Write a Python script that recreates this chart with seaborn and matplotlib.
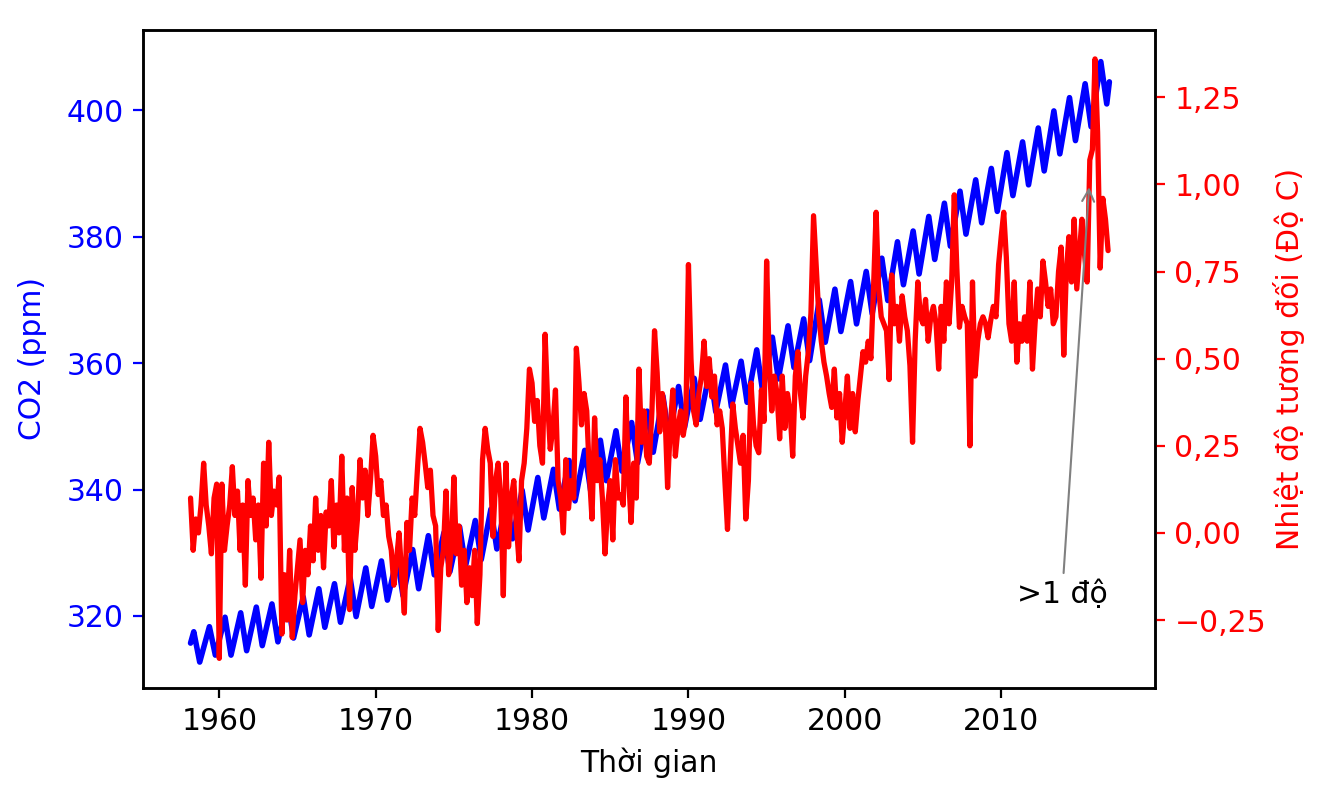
import pandas as pd
import matplotlib
matplotlib.use("Agg")
import matplotlib.pyplot as plt
import matplotlib.dates as mdates
from matplotlib.ticker import FuncFormatter
import seaborn as sns

# CO2 (ppm) at Mauna Loa: first month, yearly May peaks, Sep/Oct troughs, last month
co2_years = list(range(1958, 2017))
co2_first = 315.7   # 1958-03
co2_last = 404.5    # 2016-12
co2_peak = [317.5, 318.3, 319.8, 320.5, 321.4, 321.9, 322.5, 323.0, 324.3, 325.1,
            326.0, 327.6, 328.7, 329.3, 330.5, 332.7, 333.2, 334.1, 335.1, 336.9,
            338.5, 339.9, 341.9, 343.2, 344.6, 346.2, 347.8, 349.3, 350.6, 352.4,
            354.8, 356.3, 357.6, 358.8, 359.7, 360.3, 362.1, 364.1, 365.9, 367.0,
            370.0, 371.7, 372.9, 374.5, 376.6, 379.2, 380.9, 383.2, 385.3, 387.2,
            389.0, 390.8, 393.3, 395.0, 397.2, 399.9, 402.0, 404.2, 407.7]
co2_trough = [312.7, 313.8, 313.8, 314.5, 315.3, 315.9, 316.5, 317.0, 318.2, 319.0,
              319.9, 321.5, 322.5, 323.2, 324.3, 326.5, 327.0, 327.9, 328.9, 330.6,
              332.2, 333.6, 335.5, 336.9, 338.2, 339.8, 341.4, 342.9, 344.2, 345.9,
              348.3, 349.8, 351.1, 352.3, 353.1, 353.8, 355.5, 357.5, 359.3, 360.4,
              363.3, 365.0, 366.2, 367.8, 369.9, 372.4, 374.1, 376.4, 378.5, 380.4,
              382.2, 384.0, 386.5, 388.2, 390.4, 393.1, 395.2, 397.4, 401.0]

# relative temperature (deg C), every two months from 1958-03 to 2016-11
temp_values = [
    0.10, -0.05, 0.04, 0.00, 0.08,              # 1958
    0.20, 0.08, 0.02, -0.06, 0.10, 0.14,        # 1959
    -0.36, 0.14, -0.05, 0.02, 0.08, 0.19,       # 1960
    0.05, 0.12, -0.05, 0.08, -0.15, 0.15,       # 1961
    0.05, 0.10, -0.02, 0.08, -0.13, 0.20,       # 1962
    0.02, 0.26, 0.05, 0.12, 0.08, 0.16,         # 1963
    -0.29, -0.12, -0.25, -0.05, -0.30, -0.18,   # 1964
    -0.10, -0.02, -0.20, -0.05, -0.12, 0.02,    # 1965
    -0.08, 0.10, -0.05, 0.05, -0.10, 0.06,      # 1966
    0.02, 0.15, -0.04, 0.08, 0.00, 0.22,        # 1967
    -0.05, 0.10, -0.22, 0.13, -0.05, 0.04,      # 1968
    0.21, 0.10, 0.18, 0.05, 0.15, 0.28,         # 1969
    0.22, 0.11, 0.15, 0.05, 0.08, -0.01,        # 1970
    -0.05, -0.15, -0.08, 0.00, -0.12, -0.23,    # 1971
    0.03, -0.05, 0.10, 0.05, 0.18, 0.30,        # 1972
    0.26, 0.20, 0.13, 0.18, 0.05, 0.02,         # 1973
    -0.28, -0.10, -0.05, 0.12, -0.12, -0.05,    # 1974
    0.16, -0.06, 0.02, -0.15, -0.05, -0.20,     # 1975
    -0.10, -0.18, -0.05, -0.26, -0.12, 0.21,    # 1976
    0.30, 0.24, 0.20, -0.01, 0.15, 0.20,        # 1977
    0.10, -0.18, 0.20, -0.04, 0.10, 0.15,       # 1978
    0.02, -0.08, 0.15, 0.20, 0.30, 0.47,        # 1979
    0.43, 0.32, 0.38, 0.25, 0.20, 0.57,         # 1980
    0.37, 0.24, 0.30, 0.41, 0.15, 0.10,         # 1981
    0.00, 0.21, 0.07, 0.15, 0.10, 0.53,         # 1982
    0.43, 0.31, 0.40, 0.35, 0.17, 0.04,         # 1983
    0.33, 0.15, 0.21, 0.10, -0.06, 0.08,        # 1984
    0.15, -0.02, 0.21, 0.10, 0.11, 0.08,        # 1985
    0.39, 0.17, 0.03, 0.20, 0.10, 0.47,         # 1986
    0.26, 0.35, 0.22, 0.20, 0.35, 0.58,         # 1987
    0.46, 0.29, 0.40, 0.35, 0.13, 0.30,         # 1988
    0.41, 0.22, 0.30, 0.35, 0.28, 0.33,         # 1989
    0.77, 0.50, 0.35, 0.31, 0.40, 0.45,         # 1990
    0.55, 0.42, 0.50, 0.39, 0.45, 0.31,         # 1991
    0.35, 0.30, 0.15, 0.01, 0.20, 0.37,         # 1992
    0.30, 0.25, 0.20, 0.28, 0.04, 0.15,         # 1993
    0.43, 0.31, 0.25, 0.23, 0.41, 0.32,         # 1994
    0.78, 0.50, 0.35, 0.45, 0.40, 0.27,         # 1995
    0.45, 0.30, 0.40, 0.35, 0.22, 0.45,         # 1996
    0.52, 0.40, 0.33, 0.45, 0.52, 0.63,         # 1997
    0.91, 0.77, 0.63, 0.55, 0.49, 0.45,         # 1998
    0.40, 0.36, 0.47, 0.33, 0.40, 0.26,         # 1999
    0.35, 0.45, 0.30, 0.40, 0.29, 0.38,         # 2000
    0.45, 0.52, 0.49, 0.55, 0.50, 0.70,         # 2001
    0.92, 0.70, 0.62, 0.60, 0.58, 0.44,         # 2002
    0.74, 0.60, 0.65, 0.55, 0.68, 0.62,         # 2003
    0.58, 0.48, 0.26, 0.55, 0.72, 0.62,         # 2004
    0.60, 0.67, 0.55, 0.62, 0.65, 0.60,         # 2005
    0.47, 0.65, 0.55, 0.72, 0.60, 0.72,         # 2006
    0.97, 0.76, 0.59, 0.65, 0.62, 0.60,         # 2007
    0.25, 0.72, 0.45, 0.55, 0.60, 0.62,         # 2008
    0.60, 0.56, 0.61, 0.65, 0.62, 0.77,         # 2009
    0.85, 0.92, 0.79, 0.60, 0.55, 0.72,         # 2010
    0.49, 0.60, 0.55, 0.62, 0.55, 0.72,         # 2011
    0.47, 0.60, 0.70, 0.62, 0.78, 0.72,         # 2012
    0.65, 0.70, 0.60, 0.62, 0.75, 0.82,         # 2013
    0.51, 0.75, 0.85, 0.72, 0.90, 0.70,         # 2014
    0.80, 0.90, 0.80, 0.72, 1.07, 1.10,         # 2015
    1.36, 1.15, 0.76, 0.96, 0.90, 0.81,         # 2016
]

# build tables
co2_dates = [pd.Timestamp("1958-03-01")]
co2_vals = [co2_first]
for yr, pk, tr in zip(co2_years, co2_peak, co2_trough):
    co2_dates += [pd.Timestamp(f"{yr}-05-15"), pd.Timestamp(f"{yr}-10-01")]
    co2_vals += [pk, tr]
co2_dates.append(pd.Timestamp("2016-12-01"))
co2_vals.append(co2_last)
co2_df = pd.DataFrame({"date": co2_dates, "co2": co2_vals})

temp_df = pd.DataFrame({
    "date": pd.date_range("1958-03-01", periods=len(temp_values), freq="2MS"),
    "relative_temp": temp_values,
})

sns.set_style("ticks", {"axes.edgecolor": "black", "text.color": "black",
                        "xtick.color": "black", "ytick.color": "black",
                        "axes.labelcolor": "black"})
plt.rcParams["font.family"] = ["DejaVu Sans"]
fs = 21.5

fig, ax = plt.subplots(figsize=(13.28, 8), dpi=100)
fig.subplots_adjust(left=0.1077, right=0.8697, top=0.9625, bottom=0.14)

sns.lineplot(data=co2_df, x="date", y="co2", color="blue", lw=4, ax=ax)
ax.set_xlabel("Thời gian", fontsize=fs, color="black", labelpad=8)
ax.set_ylabel("CO2 (ppm)", color="blue", fontsize=fs, labelpad=14)
ax.tick_params("y", colors="blue", labelsize=fs, length=7, width=1.6, pad=7)
ax.tick_params("x", colors="black", labelsize=fs, length=7, width=1.6, pad=7)
ax.set_ylim(308.6, 412.7)
ax.set_yticks([320, 340, 360, 380, 400])

ax2 = ax.twinx()
sns.lineplot(data=temp_df, x="date", y="relative_temp", color="red", lw=3.8, ax=ax2)
ax2.set_ylabel("Nhiệt độ tương đối (Độ C)", color="red", fontsize=fs, labelpad=5)
ax2.tick_params("y", colors="red", labelsize=fs, length=7, width=1.6, pad=7)
ax2.set_ylim(-0.445, 1.443)
ax2.set_yticks([-0.25, 0, 0.25, 0.5, 0.75, 1.0, 1.25])
ax2.yaxis.set_major_formatter(FuncFormatter(lambda v, p: f"{v:.2f}".replace(".", ",").replace("-", "\u2212")))

ax.set_xlim(pd.Timestamp("1955-02-15"), pd.Timestamp("2019-11-01"))
ax.xaxis.set_major_locator(mdates.YearLocator(10))
ax.xaxis.set_major_formatter(mdates.DateFormatter("%Y"))

for a in (ax, ax2):
    for s in a.spines.values():
        s.set_linewidth(1.8)
        s.set_color("black")

ax2.annotate(">1 độ", xy=(pd.Timestamp("2015-08-20"), 1.0),
             xytext=(pd.Timestamp("2011-01-01"), -0.2), fontsize=fs, color="black",
             arrowprops={"arrowstyle": "->", "color": "gray", "lw": 1.5})

fig.savefig("out.png", dpi=100)
